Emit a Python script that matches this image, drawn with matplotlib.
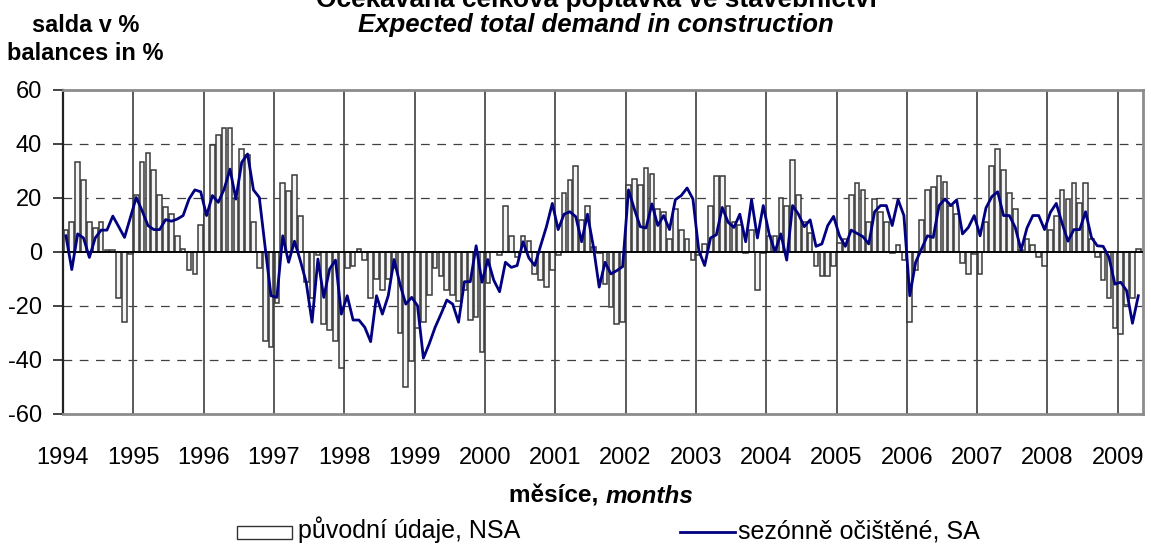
import matplotlib
matplotlib.use("Agg")
import matplotlib.pyplot as plt
from matplotlib.patches import Rectangle
from matplotlib.lines import Line2D
import numpy as np

# ---------------- data ----------------
years = [str(y) for y in range(1994, 2010)]
yticks = [-60, -40, -20, 0, 20, 40, 60]

# original (non seasonally adjusted) balances, monthly Jan 1994 - Apr 2009
nsa = [
    8, 11, 33.5, 26.5, 11, 9, 11, 0.7, 0.7, -17, -26, -0.7,          # 1994
    21, 33.5, 36.5, 30.5, 21, 16.5, 14, 6, 1, -6.5, -8, 10,          # 1995
    14, 39.5, 43.5, 46, 46, 20, 38, 36, 11, -6, -33, -35,            # 1996
    -19, 25.5, 22.5, 28.5, 13.5, -11, -17, -1, -26.5, -29, -33, -43, # 1997
    -6, -5, 1, -3, -17, -10, -14, -10, -6, -30, -50, -40.5,          # 1998
    -28, -26, -16, -6, -9, -14, -16, -18, -14, -25, -24, -37,        # 1999
    -11.5, 0, -1, 17, 6, -2, 6, 4, -8, -10.5, -13, -6.5,             # 2000
    -1, 22, 26.5, 32, 12, 17, 2, -0.5, -12, -20.5, -26.5, -26,       # 2001
    25, 27, 25, 31, 29, 16, 15, 5, 16, 8, 5, -3,                     # 2002
    -1, 3, 17, 28, 28, 17, 11, 10, -0.5, 8, -14, -0.5,               # 2003
    6, 6, 20, 17, 34, 21, 11, 7, -5, -9, -9, -5,                     # 2004
    3.5, 5, 21, 25.5, 23, 11, 19.5, 15, 11, -0.5, 2.5, -3,           # 2005
    -26, -6.5, 12, 23, 24, 28, 26, 17, 14, -4, -8, -0.7,             # 2006
    -8, 11, 32, 38, 30.5, 22, 16, 0.7, 5, 2.5, -2, -5,               # 2007
    8, 13.5, 23, 19.5, 25.5, 18, 25.5, 5, -2, -10.5, -17, -28,       # 2008
    -30.5, -19.5, -17, 1,                                            # 2009
]

# seasonally adjusted balances
sa = [
    6, -6.5, 6.7, 5.2, -2, 5.2, 8.1, 8.1, 13.3, 9.4, 5.4, 12.8,      # 1994
    20.2, 15.3, 9.8, 8.3, 8.3, 12, 11.4, 12.2, 13.5, 19.6, 23, 22.3, # 1995
    13.5, 20.9, 18.4, 23.3, 30.7, 19.6, 33.2, 36.3, 23, 20.2, 1.7, -16.2,   # 1996
    -16.8, 6, -3.8, 4, -3.2, -11.2, -26, -2.6, -16.8, -6.3, -3, -23,        # 1997
    -16.2, -25.2, -25.2, -27.9, -33.2, -16.2, -23, -16.2, -2.8, -11.9, -19.3, -16.8,  # 1998
    -19.9, -39.3, -34, -27.9, -23, -17.8, -19.3, -26, -11, -11, 2.3, -11.2,  # 1999
    -2.8, -10.4, -14.7, -3.8, -5.7, -5, 3.8, -2.2, -5, 2.3, 9.4, 18,        # 2000
    8.3, 14, 14.9, 13.1, 3.8, 14, 2.1, -13, -3.8, -8.1, -6.9, -5.4,         # 2001
    23, 15.9, 9.4, 8.9, 17.8, 9.8, 13.5, 8.3, 19.4, 20.9, 23.7, 19.6,       # 2002
    0.5, -5, 5.2, 6.4, 16.5, 11, 9.1, 14, 3.8, 19.4, 5.2, 17.2,             # 2003
    6.7, 0.1, 6.7, -3, 17.2, 14, 9.4, 11.9, 2.1, 3, 9.8, 13.2,              # 2004
    6, 2.1, 8.1, 6.9, 5.7, 3, 14.9, 17.2, 17.2, 9.8, 19.4, 13.5,            # 2005
    -16.2, -3.8, 1.1, 6, 5.4, 17.2, 19.6, 17.2, 19.3, 6.7, 9.1, 13.5,       # 2006
    6, 16.3, 20.5, 22.3, 13.5, 13.5, 9.1, 0.7, 8.9, 13.5, 13.5, 8.3,        # 2007
    14.7, 18, 10.6, 4, 8.3, 8.3, 14.9, 5.4, 2.3, 2.1, -2, -11.9,            # 2008
    -11.2, -14.3, -26.4, -16.2,                                             # 2009
]

# ---------------- figure ----------------
W, H = 1151, 544
plt.rcParams['font.family'] = ['Liberation Sans', 'DejaVu Sans']
fig = plt.figure(figsize=(W / 100, H / 100), dpi=100)

def fx(px):
    return px / W

def fy(py):
    return 1 - py / H

L, R, T, B = 63, 1143, 90, 414
ax = fig.add_axes([fx(L), fy(B), fx(R) - fx(L), fy(T) - fy(B)])

months = np.arange(len(nsa)) + 0.5
ax.set_xlim(0, 184.3)
ax.set_ylim(-60, 60)

# grid
for g in [-40, -20, 20, 40]:
    ax.axhline(g, color='#404040', lw=0.9, dashes=(7, 6), zorder=1)
for k in range(1, 16):
    ax.axvline(12 * k, color='#4d4d4d', lw=1.3, zorder=2)

ax.bar(months, nsa, width=0.8, facecolor='#f4f4f4', edgecolor='#3a3a3a',
       linewidth=1.1, zorder=3)
ax.axhline(0, color='black', lw=1.3, zorder=4)
ax.plot(months, sa, color='#000080', lw=2.0, zorder=5)

# axes styling
for s in ['top', 'right', 'bottom']:
    ax.spines[s].set_color('#8c8c8c')
    ax.spines[s].set_linewidth(2)
ax.spines['left'].set_color('#222222')
ax.spines['left'].set_linewidth(1.6)

ax.set_yticks(yticks)
ax.set_yticklabels([str(v) for v in yticks], fontsize=17)
ax.tick_params(axis='y', length=7, width=1.2, color='#222222', pad=8)
ax.set_xticks(np.arange(0, 181, 12))
ax.set_xticklabels(years, fontsize=17)
ax.tick_params(axis='x', length=0, pad=24)

fig.canvas.draw()
rend = fig.canvas.get_renderer()


def fit_text(x_px, y_px, s, width_px, ha='left', **kw):
    """Place text whose rendered width is width_px (font size scaled)."""
    t = fig.text(fx(x_px), fy(y_px), s, ha=ha, va='baseline', fontsize=16, **kw)
    w = t.get_window_extent(rend).width
    t.set_fontsize(16 * width_px / w)
    return t


# titles
fit_text(596, 7, 'Očekávaná celková poptávka ve stavebnictví', 560, ha='center',
         fontweight='bold')
fit_text(596, 32, 'Expected total demand in construction', 475, ha='center',
         fontweight='bold', style='italic')
fit_text(86, 32, 'salda v %', 107, ha='center', fontweight='bold')
fit_text(85, 60, 'balances in %', 156, ha='center', fontweight='bold')

# x-axis title: "měsíce, " bold + "months" bold italic, centred together
fs = 17.5
t1 = fig.text(0, fy(503), 'měsíce, ', ha='left', va='baseline', fontsize=fs,
              fontweight='bold')
t2 = fig.text(0, fy(503), 'months', ha='left', va='baseline', fontsize=fs,
              fontweight='bold', style='italic')
w1 = t1.get_window_extent(rend).width
w2 = t2.get_window_extent(rend).width
cx = 601
start = cx - (w1 + w2) / 2
t1.set_x(fx(start))
t2.set_x(fx(start + w1))

# legend
fig.add_artist(Rectangle((fx(237), fy(539)), fx(292) - fx(237), fy(526) - fy(539),
                         transform=fig.transFigure, facecolor='white',
                         edgecolor='#333333', lw=1.0))
fig.text(fx(298), fy(538), 'původní údaje, NSA', ha='left', va='baseline', fontsize=18)
fig.add_artist(Line2D([fx(680), fx(735)], [fy(532), fy(532)],
                      transform=fig.transFigure, color='#000080', lw=2))
fig.text(fx(738), fy(538), 'sezónně očištěné, SA', ha='left', va='baseline', fontsize=18)

fig.savefig('out.png', dpi=100)
